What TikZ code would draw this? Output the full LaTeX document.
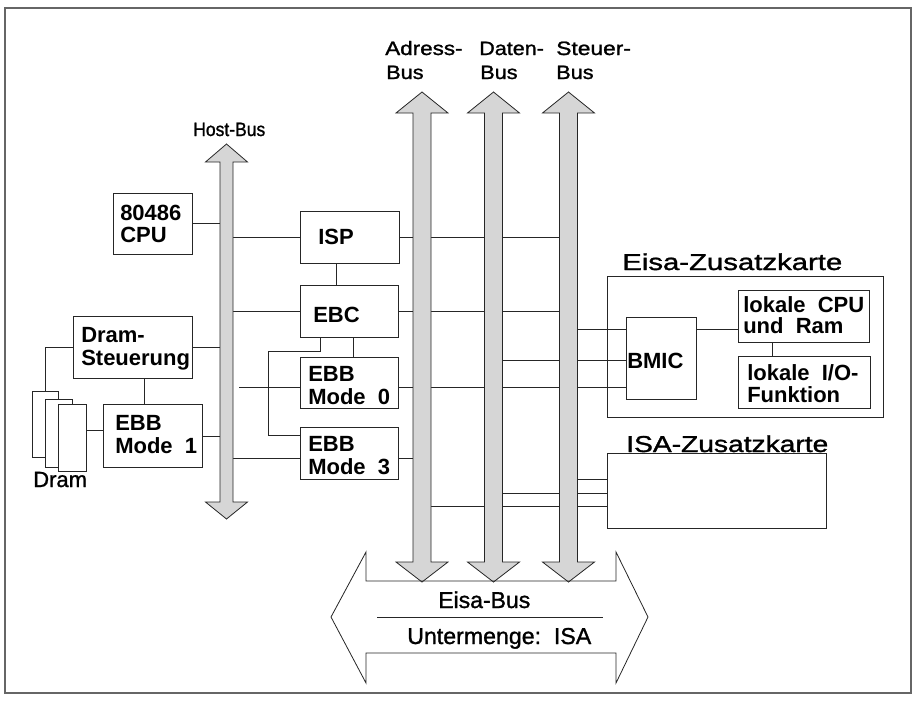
\documentclass[tikz,border=0pt]{standalone}
\usepackage{fontspec}
\setmainfont{Liberation Sans}
\newfontfamily\labfont[FakeBold=1.2]{Liberation Sans}
\usepackage{graphicx}
\usetikzlibrary{fit}
\begin{document}
\begin{tikzpicture}[x=0.75pt,y=-0.75pt,
  ln/.style={draw=black!85, line width=0.6pt},
  box/.style={draw=black!85, line width=0.6pt, inner sep=0pt, outer sep=0pt},
  bus/.style={draw=black!85, line width=0.6pt, fill=black!16},
  bt/.style={inner sep=0pt, anchor=base west, font=\fontsize{16.5}{16.5}\selectfont\bfseries},
  lt/.style={inner sep=0pt, anchor=base west, font=\labfont\fontsize{17.25}{17.25}\selectfont},
  st/.style={inner sep=0pt, anchor=base west, font=\labfont\fontsize{14.5}{14.5}\selectfont}]
\useasboundingbox (0,0) rectangle (914,704);
\draw[draw=black!60, line width=0.8pt] (5,8) rectangle (911,693);

% bus edge coordinates
\coordinate (hbL) at (220,0); \coordinate (hbR) at (233,0);
\coordinate (abL) at (413,0); \coordinate (abR) at (431,0);
\coordinate (dbL) at (484.5,0); \coordinate (dbR) at (502.5,0);
\coordinate (sbL) at (559.5,0); \coordinate (sbR) at (577.5,0);
% helper rows / columns
\coordinate (r329) at (0,329); \coordinate (r351) at (0,351);
\coordinate (r360) at (0,360); \coordinate (r387) at (0,387);
\coordinate (r430) at (0,430); \coordinate (r435) at (0,435);
\coordinate (r436) at (0,436); \coordinate (r458) at (0,458);
\coordinate (r479) at (0,479); \coordinate (r493) at (0,493);
\coordinate (r506) at (0,506);
\coordinate (x45) at (45,0); \coordinate (x144) at (144,0);
\coordinate (x268) at (268,0); \coordinate (x320) at (320,0);
\coordinate (x336) at (336,0); \coordinate (x353) at (353,0);
\coordinate (x772) at (772,0);
\coordinate (c239) at (239,387);

% boxes
\node[box, fit={(113,193) (192,254)}] (cpu) {};
\node[box, fit={(300,211) (399,263)}] (isp) {};
\node[box, fit={(300,285) (398,337)}] (ebc) {};
\node[box, fit={(300,357) (398,408)}] (ebb0) {};
\node[box, fit={(300,427) (398,479)}] (ebb3) {};
\node[box, fit={(73,316) (192,378)}] (dst) {};
\node[box, fit={(103,404) (202,467)}] (ebb1) {};
\node[box, fill=white, fit={(32,391) (58,457)}] (dr1) {};
\node[box, fill=white, fit={(45,399) (72,467)}] (dr2) {};
\node[box, fill=white, fit={(58,404) (86,471)}] (dr3) {};
\node[box, fit={(607,276) (883,417)}] (eisa) {};
\node[box, fit={(626,317) (696,399)}] (bmic) {};
\node[box, fit={(738,290) (869,342)}] (lcpu) {};
\node[box, fit={(738,356) (870,408)}] (lio) {};
\node[box, fit={(607,453) (826,528)}] (isa) {};

% connectors
\draw[ln] (cpu.east) -- (cpu.east -| hbL);
\draw[ln] (dst.east) -- (dst.east -| hbL);
\draw[ln] (ebb1.east |- r436) -- (r436 -| hbL);
\draw[ln] (dst.south -| x144) -- (ebb1.north -| x144);
\draw[ln] (dst.west) -- (dst.west -| x45) -- (dr1.north -| x45);
\draw[ln] (ebb1.west |- r430) -- (dr3.east |- r430);
\draw[ln] (isp.west) -- (isp.west -| hbR);
\draw[ln] (isp.east) -- (isp.east -| sbL);
\draw[ln] (isp.south -| x336) -- (ebc.north -| x336);
\draw[ln] (ebc.west) -- (ebc.west -| hbR);
\draw[ln] (ebc.east) -- (ebc.east -| sbL);
\draw[ln] (ebc.south -| x353) -- (ebb0.north -| x353);
\draw[ln] (ebc.south -| x320) -- (x320 |- r351) -- (x268 |- r351) -- (x268 |- r435) -- (ebb3.west |- r435);
\draw[ln] (c239) -- (ebb0.west |- c239);
\draw[ln] (ebb0.east |- r387) -- (bmic.west |- r387);
\draw[ln] (ebb3.west |- r458) -- (r458 -| hbR);
\draw[ln] (ebb3.east |- r458) -- (r458 -| abL);
\draw[ln] (r329 -| sbR) -- (bmic.west |- r329);
\draw[ln] (r360 -| dbR) -- (bmic.west |- r360);
\draw[ln] (bmic.east |- r329) -- (lcpu.west |- r329);
\draw[ln] (lcpu.south -| x772) -- (lio.north -| x772);
\draw[ln] (r479 -| sbR) -- (isa.west |- r479);
\draw[ln] (r493 -| dbR) -- (isa.west |- r493);
\draw[ln] (r506 -| abR) -- (isa.west |- r506);

% bus arrows
\newcommand\busarrow[7]{\draw[bus] (#1,#4) -- (#1+#3,#5) -- (#1+#2,#5) -- (#1+#2,#6) -- (#1+#3,#6) -- (#1,#7) -- (#1-#3,#6) -- (#1-#2,#6) -- (#1-#2,#5) -- (#1-#3,#5) -- cycle;}
\busarrow{226.5}{6.5}{21}{144}{162}{502}{519}
\busarrow{422}{9}{26}{92}{113}{562}{582}
\busarrow{493.5}{9}{26}{92}{113}{562}{582}
\busarrow{568.5}{9}{26}{92}{113}{562}{582}

% Eisa bus double arrow
\draw[ln] (366,581) -- (366,552) -- (331,617) -- (366,683) -- (366,653) -- (616,653) -- (616,683) -- (648,617) -- (616,552) -- (616,581) -- cycle;
\coordinate (sepL) at (377,617); \coordinate (sepR) at (603,617);
\draw[ln] (sepL) -- (sepR);

% box texts
\node[bt] (t1) at (120,220) {80486};
\node[bt] (t2) at (120,242) {CPU};
\node[bt] (t3) at (318,244) {ISP};
\node[bt] (t4) at (313,322) {EBC};
\node[bt] (t5) at (308,381) {EBB};
\node[bt] (t6) at (308,404) {Mode\ \ 0};
\node[bt] (t7) at (308,451) {EBB};
\node[bt] (t8) at (308,474) {Mode\ \ 3};
\node[bt] (t9) at (81,342) {Dram-};
\node[bt] (t10) at (81,365) {Steuerung};
\node[bt] (t11) at (115,430) {EBB};
\node[bt] (t12) at (115,453) {Mode\ \ 1};
\node[bt] (t13) at (627,368) {BMIC};
\node[bt] (t14) at (743,312) {lokale\ \ CPU};
\node[bt] (t15) at (743,333) {und\ \ Ram};
\node[bt] (t16) at (747,380) {lokale\ \ I/O-};
\node[bt] (t17) at (747,402) {Funktion};

% labels
\node[inner sep=0pt, anchor=base west, font=\labfont\fontsize{14.5}{14.5}\selectfont] (l1) at (193,136) {\resizebox{54pt}{\height}{Host-Bus}};
\node[st] (l2) at (385,55) {\resizebox{58pt}{\height}{Adress-}};
\node[st] (l3) at (386,79) {\resizebox{28pt}{\height}{Bus}};
\node[st] (l4) at (479,55) {\resizebox{48.5pt}{\height}{Daten-}};
\node[st] (l5) at (480,79) {\resizebox{28pt}{\height}{Bus}};
\node[st] (l6) at (556,55) {\resizebox{56pt}{\height}{Steuer-}};
\node[st] (l7) at (556,79) {\resizebox{28pt}{\height}{Bus}};
\node[lt] (l8) at (622,270) {\resizebox{165pt}{\height}{Eisa-Zusatzkarte}};
\node[lt] (l9) at (626,452) {\resizebox{151.5pt}{\height}{ISA-Zusatzkarte}};
\node[inner sep=0pt, anchor=base west, font=\labfont\fontsize{16.5}{16.5}\selectfont] (l10) at (33,487) {Dram};
\node[lt] (l11) at (438,608) {\resizebox{69pt}{\height}{Eisa-Bus}};
\node[lt] (l12) at (407,644) {\resizebox{138pt}{\height}{Untermenge:\ \ ISA}};
\end{tikzpicture}
\end{document}
